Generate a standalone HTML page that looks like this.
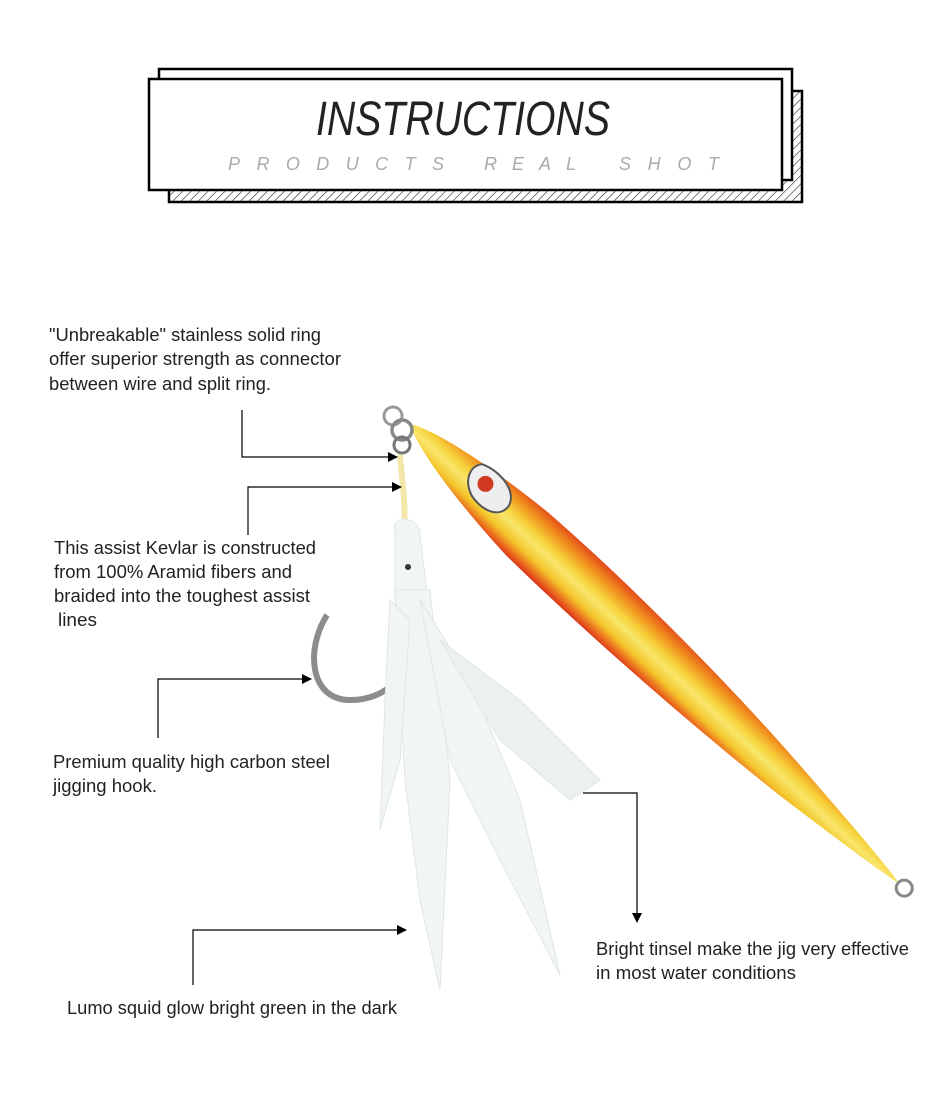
<!DOCTYPE html>
<html><head><meta charset="utf-8"><style>
html,body{margin:0;padding:0;background:#fff;}
svg{display:block;font-family:"Liberation Sans",sans-serif;}
</style></head><body>
<svg width="950" height="1096" viewBox="0 0 950 1096" xmlns="http://www.w3.org/2000/svg">
<defs>
<pattern id="hatch" width="6" height="6" patternUnits="userSpaceOnUse" patternTransform="rotate(45)">
<rect width="6" height="6" fill="#fff"/><line x1="0" y1="0" x2="0" y2="6" stroke="#222" stroke-width="1.2"/>
</pattern>
<linearGradient id="body" x1="0" y1="0" x2="0" y2="1">
<stop offset="0" stop-color="#e24a1c"/>
<stop offset="0.18" stop-color="#f0891c"/>
<stop offset="0.4" stop-color="#f6d23a"/>
<stop offset="0.55" stop-color="#f8e66a"/>
<stop offset="0.75" stop-color="#f3c42a"/>
<stop offset="0.9" stop-color="#ec6a1e"/>
<stop offset="1" stop-color="#d8341a"/>
</linearGradient>
<marker id="ar" markerWidth="10" markerHeight="10" refX="9" refY="5" orient="auto" markerUnits="userSpaceOnUse">
<path d="M0,0 L10,5 L0,10 Z" fill="#000"/>
</marker>
</defs>

<!-- header -->
<rect x="169" y="91" width="633" height="111" fill="url(#hatch)" stroke="#000" stroke-width="2.5"/>
<rect x="159" y="69" width="633" height="111" fill="#fff" stroke="#000" stroke-width="2.5"/>
<rect x="149" y="79" width="633" height="111" fill="#fff" stroke="#000" stroke-width="2.5"/>
<text x="316" y="135" font-size="48" font-style="italic" fill="#222" textLength="294" lengthAdjust="spacingAndGlyphs">INSTRUCTIONS</text>
<g font-size="18" font-style="italic" fill="#aaa">
<text x="228" y="170" textLength="216" lengthAdjust="spacing">PRODUCTS</text>
<text x="484" y="170" textLength="92" lengthAdjust="spacing">REAL</text>
<text x="619" y="170" textLength="100" lengthAdjust="spacing">SHOT</text>
</g>

<!-- lure body -->
<g transform="translate(410,424) rotate(43.2)">
<path d="M0,0 C20,-12 80,-24 160,-30 C260,-34 400,-30 520,-18 C600,-10 650,-4 672,0 C650,4 600,10 520,18 C400,28 260,32 160,30 C80,24 20,12 0,0 Z" fill="url(#body)"/>
<path d="M80,-20 C98,-28 124,-24 128,-8 C130,8 112,14 94,10 C78,4 72,-10 80,-20 Z" fill="#eee" stroke="#555" stroke-width="2"/>
<circle cx="96" cy="-8" r="8" fill="#d03a20"/>
<circle cx="678" cy="0" r="8" fill="none" stroke="#888" stroke-width="3"/>
</g>
<!-- rings -->
<circle cx="393" cy="416" r="9" fill="none" stroke="#999" stroke-width="3"/>
<circle cx="402" cy="430" r="10" fill="none" stroke="#888" stroke-width="3.5"/>
<circle cx="402" cy="445" r="8" fill="none" stroke="#777" stroke-width="3"/>
<!-- kevlar -->
<path d="M400,455 C402,480 406,505 404,530" stroke="#f2e7a8" stroke-width="6" fill="none"/>
<!-- hook -->
<path d="M327,615 C305,650 310,700 350,700 C375,700 392,688 402,675" stroke="#8c8c8c" stroke-width="6" fill="none"/>
<!-- skirt -->
<g fill="#f1f5f5" stroke="#dfe6e6" stroke-width="1">
<path d="M395,530 C390,515 420,515 420,535 L428,600 L395,600 Z"/>
<path d="M395,590 L430,590 L450,780 L440,990 L420,900 L405,780 Z"/>
<path d="M420,600 L470,680 L520,800 L560,975 L500,860 L450,760 Z"/>
<path d="M390,600 L410,620 L400,760 L380,830 L385,700 Z"/>
<path d="M440,640 L520,700 L600,780 L570,800 L500,740 Z" fill="#ebf0f0"/>
</g>
<circle cx="408" cy="567" r="3" fill="#333"/>

<!-- connectors -->
<g stroke="#000" stroke-width="1.2" fill="none">
<path d="M242,410 V457 H397" marker-end="url(#ar)"/>
<path d="M248,535 V487 H401" marker-end="url(#ar)"/>
<path d="M158,738 V679 H311" marker-end="url(#ar)"/>
<path d="M583,793 H637 V922" marker-end="url(#ar)"/>
<path d="M193,985 V930 H406" marker-end="url(#ar)"/>
</g>

<!-- labels -->
<g font-size="18" fill="#222">
<text x="49" y="341" textLength="272" lengthAdjust="spacingAndGlyphs">"Unbreakable" stainless solid ring</text>
<text x="49" y="365" textLength="292" lengthAdjust="spacingAndGlyphs">offer superior strength as connector</text>
<text x="49" y="390" textLength="222" lengthAdjust="spacingAndGlyphs">between wire and split ring.</text>
<text x="54" y="554" textLength="262" lengthAdjust="spacingAndGlyphs">This assist Kevlar is constructed</text>
<text x="54" y="578" textLength="238" lengthAdjust="spacingAndGlyphs">from 100% Aramid fibers and</text>
<text x="54" y="602" textLength="256" lengthAdjust="spacingAndGlyphs">braided into the toughest assist</text>
<text x="58" y="626" textLength="39" lengthAdjust="spacingAndGlyphs">lines</text>
<text x="53" y="768" textLength="277" lengthAdjust="spacingAndGlyphs">Premium quality high carbon steel</text>
<text x="53" y="792" textLength="104" lengthAdjust="spacingAndGlyphs">jigging hook.</text>
<text x="596" y="955" textLength="313" lengthAdjust="spacingAndGlyphs">Bright tinsel make the jig very effective</text>
<text x="596" y="979" textLength="200" lengthAdjust="spacingAndGlyphs">in most water conditions</text>
<text x="67" y="1014" textLength="330" lengthAdjust="spacingAndGlyphs">Lumo squid glow bright green in the dark</text>
</g>
</svg>
</body></html>
